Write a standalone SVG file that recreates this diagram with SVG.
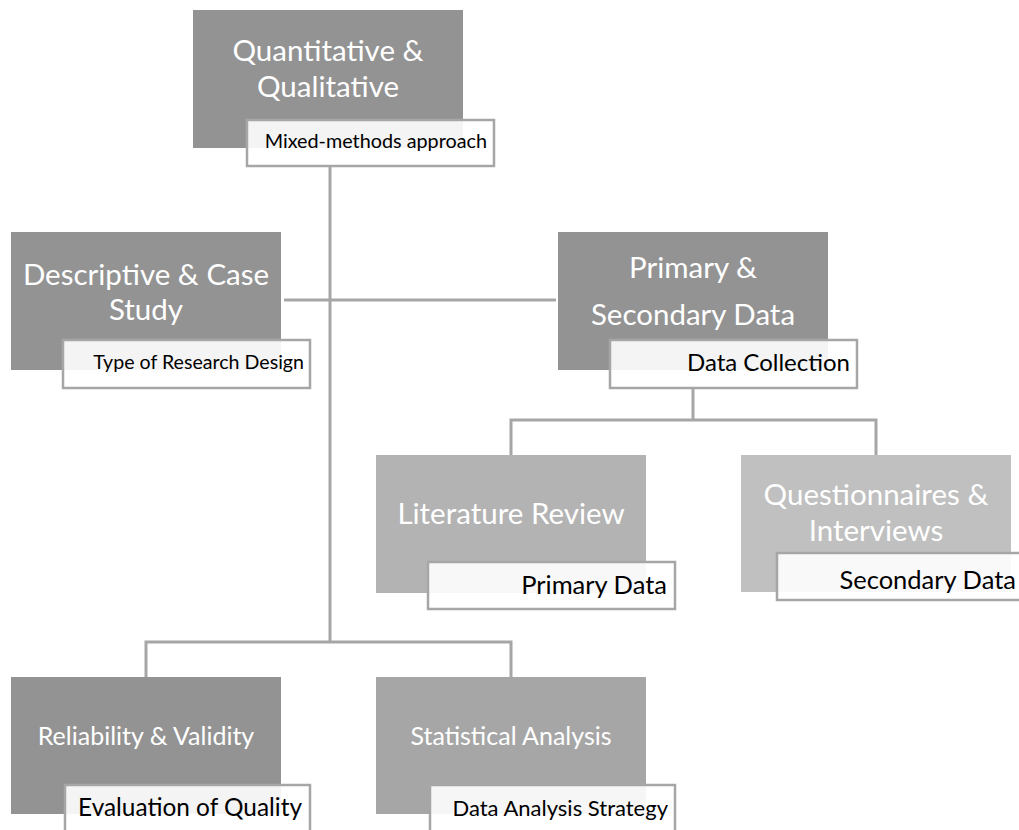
<svg xmlns="http://www.w3.org/2000/svg" width="1019" height="830" viewBox="0 0 1019 830">
<style>
.bg{fill:#ffffff}
.c{fill:none;stroke:#a6a6a6;stroke-width:3}
.lab{fill:#ffffff;fill-opacity:0.9;stroke:#a6a6a6;stroke-width:2.5}
.t{font-family:Lato,"Open Sans",sans-serif;fill:#ffffff;text-anchor:middle}
.l{font-family:Lato,"Open Sans",sans-serif;fill:#000000;text-anchor:end}
</style>
<rect class="bg" x="0" y="0" width="1019" height="830"/>
<g id="connectors">
<path class="c" d="M330 166 V642"/>
<path class="c" d="M284 300 H556"/>
<path class="c" d="M146 677 V642 H511 V677"/>
<path class="c" d="M693 388 V420"/>
<path class="c" d="M511 455 V420 H876 V455"/>
</g>
<g id="n1">
<rect x="193" y="10" width="270" height="138" fill="#939393"/>
<text class="t" x="328" y="61" font-size="29.5">Quantitative &amp;</text>
<text class="t" x="328" y="97" font-size="29.5">Qualitative</text>
<rect class="lab" x="247" y="120" width="247" height="46"/>
<text class="l" x="487" y="148" font-size="19.8">Mixed-methods approach</text>
</g>
<g id="n2">
<rect x="11" y="232" width="270" height="138" fill="#939393"/>
<text class="t" x="146" y="285" font-size="29.5">Descriptive &amp; Case</text>
<text class="t" x="146" y="320" font-size="29.5">Study</text>
<rect class="lab" x="63" y="340" width="247" height="48"/>
<text class="l" x="304" y="369" font-size="19.6">Type of Research Design</text>
</g>
<g id="n3">
<rect x="558" y="232" width="270" height="138" fill="#939393"/>
<text class="t" x="693" y="278" font-size="29.5">Primary &amp;</text>
<text class="t" x="693" y="325" font-size="29.5">Secondary Data</text>
<rect class="lab" x="610" y="340" width="247" height="48"/>
<text class="l" x="850" y="371" font-size="24">Data Collection</text>
</g>
<g id="n4">
<rect x="376" y="455" width="270" height="138" fill="#b3b3b3"/>
<text class="t" x="511" y="524" font-size="29.5">Literature Review</text>
<rect class="lab" x="428" y="562" width="247" height="47"/>
<text class="l" x="667" y="594" font-size="25.5">Primary Data</text>
</g>
<g id="n5">
<rect x="741" y="455" width="270" height="137" fill="#c0c0c0"/>
<text class="t" x="876" y="505" font-size="29.5">Questionnaires &amp;</text>
<text class="t" x="876" y="541" font-size="29.5">Interviews</text>
<rect class="lab" x="777" y="553" width="250" height="47"/>
<text class="l" x="1016" y="589" font-size="25.5">Secondary Data</text>
</g>
<g id="n6">
<rect x="11" y="677" width="270" height="137" fill="#939393"/>
<text class="t" x="146" y="745" font-size="25">Reliability &amp; Validity</text>
<rect class="lab" x="65" y="785" width="245" height="50"/>
<text class="l" x="302" y="816" font-size="24.4">Evaluation of Quality</text>
</g>
<g id="n7">
<rect x="376" y="677" width="270" height="137" fill="#a6a6a6"/>
<text class="t" x="511" y="745" font-size="25">Statistical Analysis</text>
<rect class="lab" x="430" y="785" width="245" height="50"/>
<text class="l" x="668" y="816" font-size="22">Data Analysis Strategy</text>
</g>
</svg>
